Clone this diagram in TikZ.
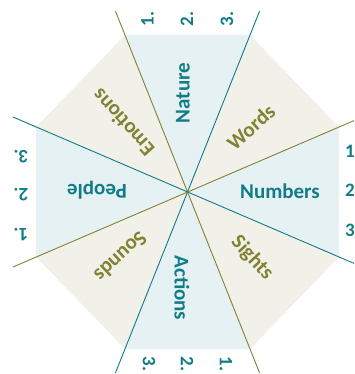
\documentclass[tikz,border=0pt]{standalone}
\usepackage{fontspec}
\setmainfont{Carlito}
\definecolor{tealtxt}{RGB}{16,124,134}
\definecolor{olivetxt}{RGB}{130,130,52}
\definecolor{bluefill}{RGB}{230,241,244}
\definecolor{beigefill}{RGB}{242,241,233}
\begin{document}
\begin{tikzpicture}[x=1pt,y=-1pt,
  bluesec/.style={fill=bluefill,draw=none},
  beigesec/.style={fill=beigefill,draw=none},
  tealline/.style={draw=tealtxt,line width=0.9pt},
  oliveline/.style={draw=olivetxt,line width=0.9pt},
  tlabel/.style={font=\fontsize{21}{23}\selectfont\bfseries,text=tealtxt,inner sep=0pt},
  olabel/.style={font=\fontsize{21}{23}\selectfont\bfseries,text=olivetxt,inner sep=0pt},
  numlabel/.style={font=\fontsize{19}{21}\selectfont\bfseries,text=tealtxt,inner sep=0pt}]
\useasboundingbox (0,0) rectangle (354,374);
% octagon vertices
\coordinate (C) at (187.5,192);
\coordinate (v1) at (125,35);
\coordinate (v2) at (250,35);
\coordinate (v3) at (339,127);
\coordinate (v4) at (339,257);
\coordinate (v5) at (250,349);
\coordinate (v6) at (125,349);
\coordinate (v7) at (36,257);
\coordinate (v8) at (36,127);
% sectors
\path[bluesec] (C) -- (v1) -- (v2) -- cycle;
\path[beigesec] (C) -- (v2) -- (v3) -- cycle;
\path[bluesec] (C) -- (v3) -- (v4) -- cycle;
\path[beigesec] (C) -- (v4) -- (v5) -- cycle;
\path[bluesec] (C) -- (v5) -- (v6) -- cycle;
\path[beigesec] (C) -- (v6) -- (v7) -- cycle;
\path[bluesec] (C) -- (v7) -- (v8) -- cycle;
\path[beigesec] (C) -- (v8) -- (v1) -- cycle;
% line ends
\coordinate (o1a) at (115.4,11);
\coordinate (o1b) at (259.6,373);
\coordinate (t1a) at (259.6,11);
\coordinate (t1b) at (115.4,373);
\coordinate (t2a) at (13,117);
\coordinate (t2b) at (354,263.4);
\coordinate (o2a) at (13,267);
\coordinate (o2b) at (354,120.6);
\draw[oliveline] (o1a) -- (o1b);
\draw[tealline] (t1a) -- (t1b);
\draw[tealline] (t2a) -- (t2b);
\draw[oliveline] (o2a) -- (o2b);
% sector labels
\node[tlabel,rotate=90] (nature) at (183,93) {Nature};
\node[olabel,rotate=42] (words) at (251,127) {Words};
\node[tlabel] (numbers) at (280,191) {Numbers};
\node[olabel,rotate=-47] (sights) at (252,258) {Sights};
\node[tlabel,rotate=-90] (actions) at (182,288) {Actions};
\node[olabel,rotate=223] (sounds) at (121,257) {Sounds};
\node[tlabel,rotate=180] (people) at (97,190) {People};
\node[olabel,rotate=132] (emotions) at (123,123) {Emotions};
% numbers top
\node[numlabel,rotate=90] (top1) at (147.5,19) {1.};
\node[numlabel,rotate=90] (top2) at (187,19) {2.};
\node[numlabel,rotate=90] (top3) at (227,19) {3.};
% numbers bottom
\node[numlabel,rotate=-90] (bot3) at (149,364) {3.};
\node[numlabel,rotate=-90] (bot2) at (187,364) {2.};
\node[numlabel,rotate=-90] (bot1) at (226,364) {1.};
% numbers left
\node[numlabel,rotate=180] (left3) at (21,157) {3.};
\node[numlabel,rotate=180] (left2) at (21,195) {2.};
\node[numlabel,rotate=180] (left1) at (21,235) {1.};
% numbers right
\node[numlabel,anchor=west] (right1) at (345,151) {1.};
\node[numlabel,anchor=west] (right2) at (345,190) {2.};
\node[numlabel,anchor=west] (right3) at (345,230) {3.};
\end{tikzpicture}
\end{document}
